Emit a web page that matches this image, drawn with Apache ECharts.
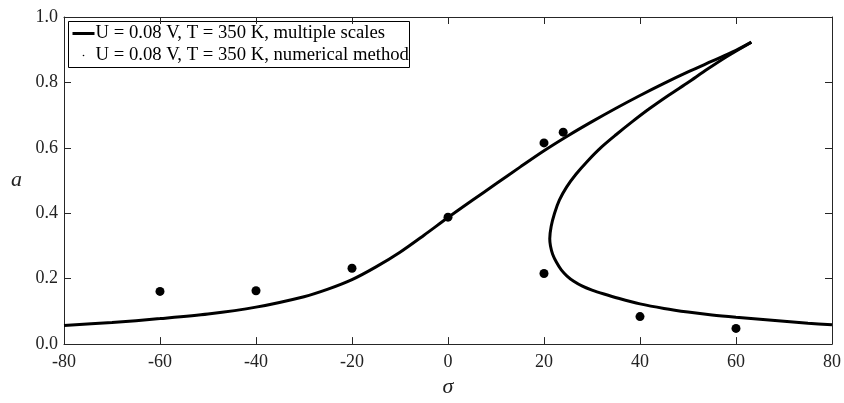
<!DOCTYPE html>
<html>
<head>
<meta charset="utf-8">
<script src="https://cdn.jsdelivr.net/npm/echarts@6/dist/echarts.min.js"></script>
<style>html,body{margin:0;padding:0;background:#fff}#c{width:844px;height:403px}</style>
</head>
<body>
<div id="c"></div>
<script>
// Multiple-scales solution: upper (stable) branch, from sigma = -80 to the tip
const sigmaUpper = [-80,-70,-60,-50,-40,-30,-25,-20,-15,-10,-5,0,5,10,15,20,25,30,35,40,45,50,55,60,63.2];
const aUpper     = [0.057,0.066,0.078,0.092,0.113,0.145,0.168,0.197,0.236,0.281,0.333,0.387,0.439,0.490,0.541,0.591,0.637,0.680,0.721,0.760,0.797,0.832,0.865,0.898,0.923];
// Multiple-scales solution: lower/unstable branch, from the tip to sigma = 80
const sigmaLower = [63.2,58.2,54.0,50.0,45.9,42.0,38.4,35.0,31.8,29.1,26.7,24.7,23.2,22.2,21.5,21.2,21.35,21.8,22.6,23.6,24.8,26.2,28,30,32.5,35.5,40,45,50,55,60,65,70,75,80];
const aLower     = [0.923,0.88,0.84,0.80,0.76,0.72,0.68,0.64,0.60,0.56,0.52,0.48,0.44,0.40,0.36,0.322,0.30,0.275,0.25,0.227,0.208,0.192,0.177,0.165,0.153,0.140,0.123,0.109,0.098,0.089,0.082,0.076,0.070,0.064,0.059];
// Numerical method points
const sigmaNum = [-60,-40,-20,0,20,20,24,40,60];
const aNum     = [0.161,0.163,0.232,0.388,0.615,0.216,0.648,0.084,0.048];
// Axis ticks
const xTicks = [-80,-60,-40,-20,0,20,40,60,80];
const yTicks = [0,0.2,0.4,0.6,0.8,1.0];
const legendNames = ['U = 0.08 V, T = 350 K, multiple scales','U = 0.08 V, T = 350 K, numerical method'];

const zip = (xs, ys) => xs.map((x, i) => [x, ys[i]]);
const font = '"Liberation Serif","Times New Roman",serif';
const axisCol = '#262626';

const chart = echarts.init(document.getElementById('c'), null, {renderer: 'canvas'});
const baseX = {
  type: 'value', min: xTicks[0], max: xTicks[xTicks.length-1], interval: 20,
  splitLine: {show: false},
  axisLine: {show: true, onZero: false, lineStyle: {color: axisCol, width: 1}},
  axisTick: {show: true, inside: true, length: 7, lineStyle: {color: axisCol}}
};
const baseY = {
  type: 'value', min: yTicks[0], max: yTicks[yTicks.length-1], interval: 0.2,
  splitLine: {show: false},
  axisLine: {show: true, onZero: false, lineStyle: {color: axisCol, width: 1}},
  axisTick: {show: true, inside: true, length: 7, lineStyle: {color: axisCol}}
};
chart.setOption({
  animation: false,
  grid: {left: 64, right: 11, top: 17, bottom: 56, containLabel: false},
  xAxis: [
    Object.assign({}, baseX, {
      position: 'bottom',
      name: 'σ', nameLocation: 'middle', nameGap: 27,
      nameTextStyle: {fontFamily: font, fontStyle: 'italic', fontSize: 22, color: '#222'},
      axisLabel: {fontFamily: font, fontSize: 18, color: '#222', margin: 9}
    }),
    Object.assign({}, baseX, {position: 'top', axisLabel: {show: false}})
  ],
  yAxis: [
    Object.assign({}, baseY, {
      position: 'left',
      name: 'a', nameLocation: 'middle', nameGap: 42, nameRotate: 0,
      nameTextStyle: {fontFamily: font, fontStyle: 'italic', fontSize: 22, color: '#222'},
      axisLabel: {fontFamily: font, fontSize: 18, color: '#222', margin: 6,
        formatter: v => v.toFixed(1)}
    }),
    Object.assign({}, baseY, {position: 'right', axisLabel: {show: false}})
  ],
  series: [
    {name: legendNames[0], type: 'line', data: zip(sigmaUpper, aUpper), smooth: 0.3,
     showSymbol: false, lineStyle: {color: '#000', width: 3}, z: 3},
    {name: legendNames[0], type: 'line', data: zip(sigmaLower, aLower), smooth: 0.3,
     showSymbol: false, lineStyle: {color: '#000', width: 3}, z: 3},
    {name: legendNames[1], type: 'scatter', data: zip(sigmaNum, aNum), symbol: 'circle',
     symbolSize: 9, itemStyle: {color: '#000', opacity: 1}, z: 4}
  ],
  graphic: [
    {type: 'group', left: 68, top: 21, children: [
      {type: 'rect', shape: {x: 0, y: 0, width: 341, height: 46},
       style: {fill: '#fff', stroke: '#000', lineWidth: 1}},
      {type: 'line', shape: {x1: 4, y1: 12, x2: 26, y2: 12},
       style: {stroke: '#000', lineWidth: 3}},
      {type: 'circle', shape: {cx: 15, cy: 34, r: 0.8}, style: {fill: '#000'}},
      {type: 'text', x: 27, y: 12, style: {text: legendNames[0], font: '18.7px ' + font,
        fill: '#000', verticalAlign: 'middle'}},
      {type: 'text', x: 27, y: 34, style: {text: legendNames[1], font: '18.7px ' + font,
        fill: '#000', verticalAlign: 'middle'}}
    ]}
  ]
});
</script>
</body>
</html>
